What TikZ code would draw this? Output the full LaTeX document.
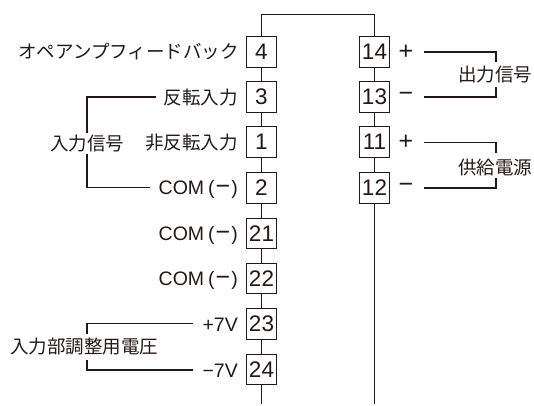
\documentclass[tikz,border=0pt]{standalone}
\usepackage{fontspec}
\setmainfont{Liberation Sans}
\newfontfamily\jpf{Noto Sans CJK JP}[Scale=1]
\definecolor{ink}{HTML}{231815}
\newcommand{\comlabel}{COM\kern4pt(\kern1pt{\fontsize{25}{25}\selectfont −}\kern1pt)}
\tikzset{
  x=1pt,y=-1pt,
  term/.style={draw=ink,line width=0.7pt,fill=white,minimum width=30.5pt,minimum height=30.5pt,inner sep=0pt,text=ink,font=\fontsize{22.5}{22.5}\selectfont},
  wire/.style={draw=ink,line width=0.7pt},
  brk/.style={draw=ink,line width=1.2pt},
  ja/.style={inner sep=0pt,text=ink,font=\jpf\fontsize{18.5}{18.5}\selectfont},
  la/.style={inner sep=0pt,text=ink,font=\fontsize{19.5}{20}\selectfont},
  lb/.style={inner sep=0pt,text=ink,font=\fontsize{19.5}{20}\selectfont},
  sg/.style={inner sep=0pt,text=ink,font=\fontsize{25}{25}\selectfont},
}
\begin{document}
\begin{tikzpicture}
\useasboundingbox (0,0) rectangle (534,405);
\coordinate (tl) at (261,14);
\coordinate (tr) at (374.5,14);
\coordinate (bl) at (261,404);
\coordinate (br) at (374.5,404);
\draw[wire] (bl) -- (tl) -- (tr) -- (br);
\node[term] (t4) at (261.5,52) {4};
\node[term] (t3) at (261.5,97) {3};
\node[term] (t1) at (261.5,142) {1};
\node[term] (t2) at (261.5,188) {2};
\node[term] (t21) at (261.5,233.5) {21};
\node[term] (t22) at (261.5,278.5) {22};
\node[term] (t23) at (261.5,324) {23};
\node[term] (t24) at (261.5,369.5) {24};
\node[term] (t14) at (374.5,52) {14};
\node[term] (t13) at (374.5,97) {13};
\node[term] (t11) at (374.5,142) {11};
\node[term] (t12) at (374.5,188) {12};
\node[ja,anchor=east] (l4) at (239,52) {オペアンプフィードバック};
\node[ja,anchor=east] (l3) at (238,98) {反転入力};
\node[ja,anchor=east] (l1) at (238,143) {非反転入力};
\node[la,anchor=east] (l2) at (238,189.5) {\comlabel};
\node[la,anchor=east] (l21) at (238,235.5) {\comlabel};
\node[la,anchor=east] (l22) at (238,280.5) {\comlabel};
\node[lb,anchor=east] (l23) at (238,325) {+7V};
\node[lb,anchor=east] (l24) at (238,371) {−7V};
\node[ja,anchor=center] (sigin) at (87,144) {入力信号};
\node[ja,anchor=center] (adj) at (84,347) {入力部調整用電圧};
\node[sg,anchor=center] (pa) at (406,52) {+};
\node[sg,anchor=center] (ma) at (406,97) {−};
\node[sg,anchor=center] (pb) at (406,142) {+};
\node[sg,anchor=center] (mb) at (406,188) {−};
\node[ja,anchor=center] (sigout) at (495,75) {出力信号};
\node[ja,anchor=center] (pow) at (495,167) {供給電源};
\coordinate (a1) at (156,97);
\coordinate (a2) at (87,97);
\coordinate (a3) at (87,133);
\coordinate (a4) at (87,154);
\coordinate (a5) at (87,187.5);
\coordinate (a6) at (150,187.5);
\draw[brk] (a1) -- (a2) -- (a3);
\draw[brk] (a4) -- (a5) -- (a6);
\coordinate (b1) at (193,323.5);
\coordinate (b2) at (87,323.5);
\coordinate (b3) at (87,334);
\coordinate (b4) at (87,360);
\coordinate (b5) at (87,370);
\coordinate (b6) at (193,370);
\draw[brk] (b1) -- (b2) -- (b3);
\draw[brk] (b4) -- (b5) -- (b6);
\coordinate (c1) at (424,52);
\coordinate (c2) at (496,52);
\coordinate (c3) at (496,62);
\coordinate (c4) at (496,87);
\coordinate (c5) at (496,97);
\coordinate (c6) at (424,97);
\draw[brk] (c1) -- (c2) -- (c3);
\draw[brk] (c4) -- (c5) -- (c6);
\coordinate (d1) at (424,142.5);
\coordinate (d2) at (496,142.5);
\coordinate (d3) at (496,153);
\coordinate (d4) at (496,178);
\coordinate (d5) at (496,188);
\coordinate (d6) at (424,188);
\draw[brk] (d1) -- (d2) -- (d3);
\draw[brk] (d4) -- (d5) -- (d6);
\end{tikzpicture}
\end{document}
